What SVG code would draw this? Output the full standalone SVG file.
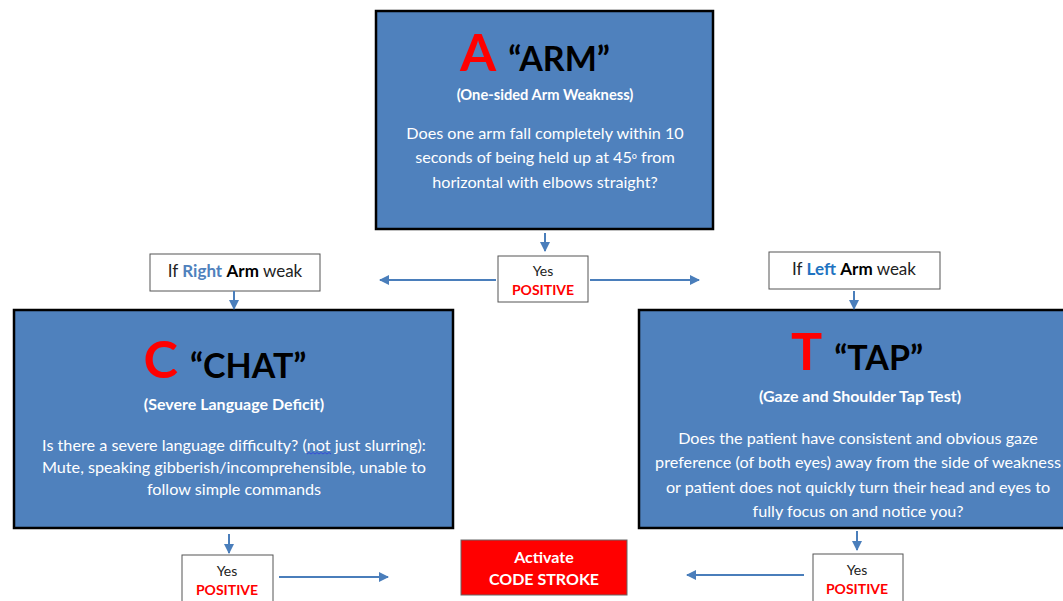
<svg xmlns="http://www.w3.org/2000/svg" width="1063" height="601" viewBox="0 0 1063 601">
<defs>
<style>
text{font-family:Lato,"Open Sans","Liberation Sans",sans-serif;text-anchor:middle}
.main{fill:#4F81BD;stroke:#000;stroke-width:2.5}
.wbox{fill:#fff;stroke:#555;stroke-width:1}
.big{font-size:52px;font-weight:bold;fill:#FF0000}
.ttl{font-size:34px;font-weight:bold;fill:#000}
.sub{font-size:16px;font-weight:bold;fill:#fff}
.body{font-size:16.2px;fill:#fff}
.lbl{font-size:17px;fill:#222}
.yes{font-size:14px;fill:#222}
.pos{font-size:14px;font-weight:bold;fill:#FF0000}
.conn{stroke:#4A7EBB;stroke-width:2;fill:none;marker-end:url(#ah)}
</style>
<marker id="ah" viewBox="0 0 10 10" refX="9" refY="5" markerWidth="5" markerHeight="5" orient="auto" markerUnits="strokeWidth">
<path d="M0,0 L10,5 L0,10 z" fill="#4A7EBB"/>
</marker>
</defs>
<rect width="1063" height="601" fill="#fff"/>

<g id="nodeA">
<rect class="main" x="376" y="11" width="337" height="218"/>
<text x="535" y="71"><tspan class="big">A</tspan><tspan class="ttl" dx="12">“ARM”</tspan></text>
<text class="sub" x="545" y="100" style="font-size:14.7px">(One-sided Arm Weakness)</text>
<text class="body" x="545" y="139">Does one arm fall completely within 10</text>
<text class="body" x="545" y="163">seconds of being held up at 45<tspan font-size="9" dy="-4">o</tspan><tspan dy="4">  from</tspan></text>
<text class="body" x="545" y="188">horizontal with elbows straight?</text>
</g>

<g id="yesA">
<rect class="wbox" x="498" y="256" width="90" height="46"/>
<text class="yes" x="543" y="276">Yes</text>
<text class="pos" x="543" y="295">POSITIVE</text>
</g>

<g id="ifRight">
<rect class="wbox" x="150" y="254" width="170" height="37"/>
<text class="lbl" x="235" y="277">If <tspan fill="#4F81BD" font-weight="bold">Right</tspan> <tspan fill="#000" font-weight="bold">Arm</tspan> weak</text>
</g>

<g id="ifLeft">
<rect class="wbox" x="769" y="252" width="171" height="37"/>
<text class="lbl" x="854" y="275">If <tspan fill="#1F73C1" font-weight="bold">Left</tspan> <tspan fill="#000" font-weight="bold">Arm</tspan> weak</text>
</g>

<g id="nodeC">
<rect class="main" x="14" y="310" width="439" height="218"/>
<text x="225" y="378"><tspan class="big">C</tspan><tspan class="ttl" dx="12">“CHAT”</tspan></text>
<text class="sub" x="234" y="410">(Severe Language Deficit)</text>
<text class="body" x="234" y="451">Is there a severe language difficulty? (not just slurring):</text>
<text class="body" x="234" y="473">Mute, speaking gibberish/incomprehensible, unable to</text>
<text class="body" x="234" y="495">follow simple commands</text>
<path d="M307,454 l2,-1.5 l2,1.5 l2,-1.5 l2,1.5 l2,-1.5 l2,1.5 l2,-1.5 l2,1.5 l2,-1.5 l2,1.5 l2,-1.5 l2,1.5" stroke="#2F3FE0" stroke-width="0.8" fill="none"/>
</g>

<g id="nodeT">
<rect class="main" x="639" y="310" width="430" height="218"/>
<text x="857" y="370"><tspan class="big">T</tspan><tspan class="ttl" dx="12">“TAP”</tspan></text>
<text class="sub" x="860" y="402">(Gaze and Shoulder Tap Test)</text>
<text class="body" x="858" y="444">Does the patient have consistent and obvious gaze</text>
<text class="body" x="858" y="468">preference (of both eyes) away from the side of weakness</text>
<text class="body" x="858" y="493">or patient does not quickly turn their head and eyes to</text>
<text class="body" x="858" y="517">fully focus on and notice you?</text>
</g>

<g id="yesC">
<rect class="wbox" x="182" y="555" width="91" height="50"/>
<text class="yes" x="227" y="576">Yes</text>
<text class="pos" x="227" y="595">POSITIVE</text>
</g>

<g id="yesT">
<rect class="wbox" x="813" y="554" width="90" height="51"/>
<text class="yes" x="857" y="575">Yes</text>
<text class="pos" x="857" y="594">POSITIVE</text>
</g>

<g id="codeStroke">
<rect x="461" y="540" width="166" height="55" fill="#FF0000" stroke="#666" stroke-width="1"/>
<text x="544" y="563" font-size="16" font-weight="bold" fill="#fff">Activate</text>
<text x="544" y="585" font-size="16" font-weight="bold" fill="#fff">CODE STROKE</text>
</g>

<g id="connectors">
<line class="conn" x1="545" y1="233" x2="545" y2="251"/>
<line class="conn" x1="496" y1="280" x2="380" y2="280"/>
<line class="conn" x1="590" y1="280" x2="699" y2="280"/>
<line class="conn" x1="234" y1="291" x2="234" y2="309"/>
<line class="conn" x1="854" y1="291" x2="854" y2="309"/>
<line class="conn" x1="229" y1="534" x2="229" y2="553"/>
<line class="conn" x1="279" y1="577" x2="388" y2="577"/>
<line class="conn" x1="804" y1="575" x2="687" y2="575"/>
<line class="conn" x1="857" y1="531" x2="857" y2="550"/>
</g>
</svg>
